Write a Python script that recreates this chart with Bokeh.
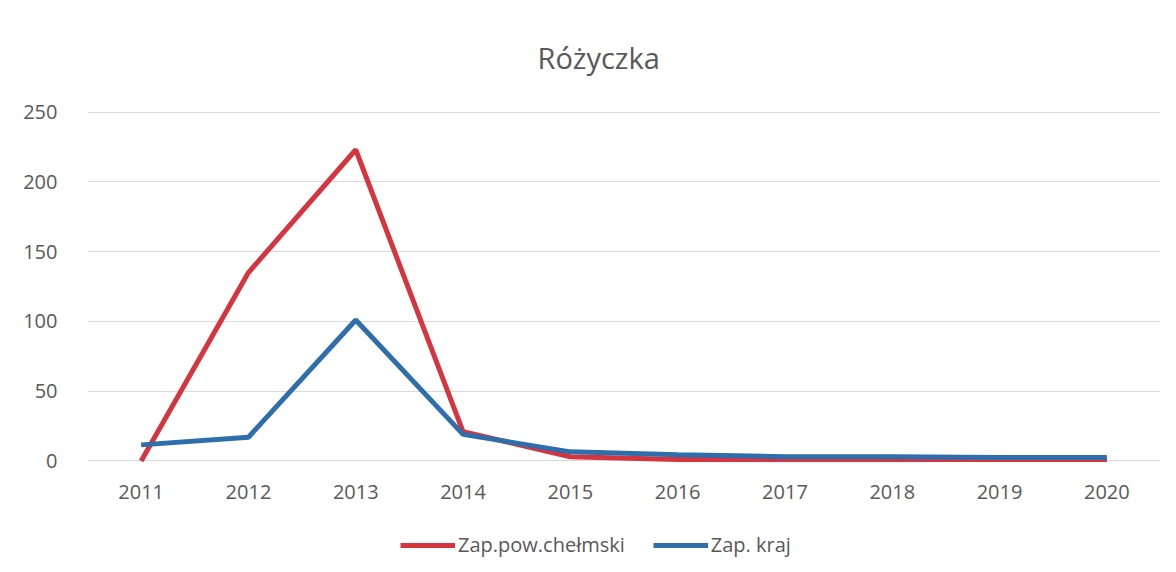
from bokeh.plotting import figure
from bokeh.layouts import column
from bokeh.models import Range1d, FactorRange, Legend, LegendItem, FixedTicker
from bokeh.embed import file_html
from bokeh.resources import INLINE

years = ["2011", "2012", "2013", "2014", "2015", "2016", "2017", "2018", "2019", "2020"]
chelm = [0, 135, 223, 21, 3, 1, 1, 1, 1, 1]
kraj = [11.5, 17, 101, 19, 6.5, 4.5, 3, 3, 2.5, 2.5]
y_ticks = [0, 50, 100, 150, 200, 250]
series_names = ["Zap.pow.chełmski", "Zap. kraj"]

FONT = "Open Sans"
GREY = "#595959"
RED = "#D6343E"
BLUE = "#2E6EAA"

p = figure(frame_width=1073, frame_height=360,
           x_range=FactorRange(*years),
           y_range=Range1d(-4, 254), output_backend="svg", toolbar_location=None,
           min_border_left=87, min_border_right=5, min_border_top=106, min_border_bottom=50,
           title="Różyczka")
p.outline_line_color = None
p.border_fill_color = "white"

p.title.align = "left"
p.title.offset = 450
p.title.text_font = FONT
p.title.text_font_size = "29px"
p.title.text_font_style = "normal"
p.title.text_color = GREY
p.title.standoff = 59

p.line(years, chelm, line_color=RED, line_width=5)
p.line(years, kraj, line_color=BLUE, line_width=5)

for ax in (p.xaxis[0], p.yaxis[0]):
    ax.axis_line_color = None
    ax.major_tick_line_color = None
    ax.minor_tick_line_color = None
    ax.major_label_text_font = FONT
    ax.major_label_text_font_size = "20px"
    ax.major_label_text_color = GREY
p.yaxis[0].ticker = FixedTicker(ticks=y_ticks)
p.yaxis[0].major_label_standoff = 24
p.xaxis[0].major_label_standoff = 12
p.xgrid.grid_line_color = None
p.ygrid.grid_line_color = "#d9d9d9"
p.ygrid.ticker = FixedTicker(ticks=y_ticks)

# legend strip below the chart (legend-only renderers hold no visible data)
nan = float("nan")
p2 = figure(frame_width=1165, frame_height=50, x_range=Range1d(0, 1), y_range=Range1d(0, 1),
            output_backend="svg", toolbar_location=None,
            min_border_left=0, min_border_right=0, min_border_top=0, min_border_bottom=0)
p2.axis.visible = False
p2.grid.visible = False
p2.outline_line_color = None
g1 = p2.line(x=[nan], y=[nan], line_color=RED, line_width=5)
g2 = p2.line(x=[nan], y=[nan], line_color=BLUE, line_width=5)
legend = Legend(items=[LegendItem(label=series_names[0], renderers=[g1]),
                       LegendItem(label=series_names[1], renderers=[g2])],
                orientation="horizontal", location=(400, 8),
                label_text_font=FONT, label_text_font_size="20px", label_text_color=GREY,
                glyph_width=55, label_standoff=3, spacing=28, border_line_color=None,
                background_fill_alpha=0, margin=0, padding=0)
p2.add_layout(legend, "center")

layout = column(p, p2, spacing=0)
open("out.html", "w").write(file_html(layout, INLINE))
